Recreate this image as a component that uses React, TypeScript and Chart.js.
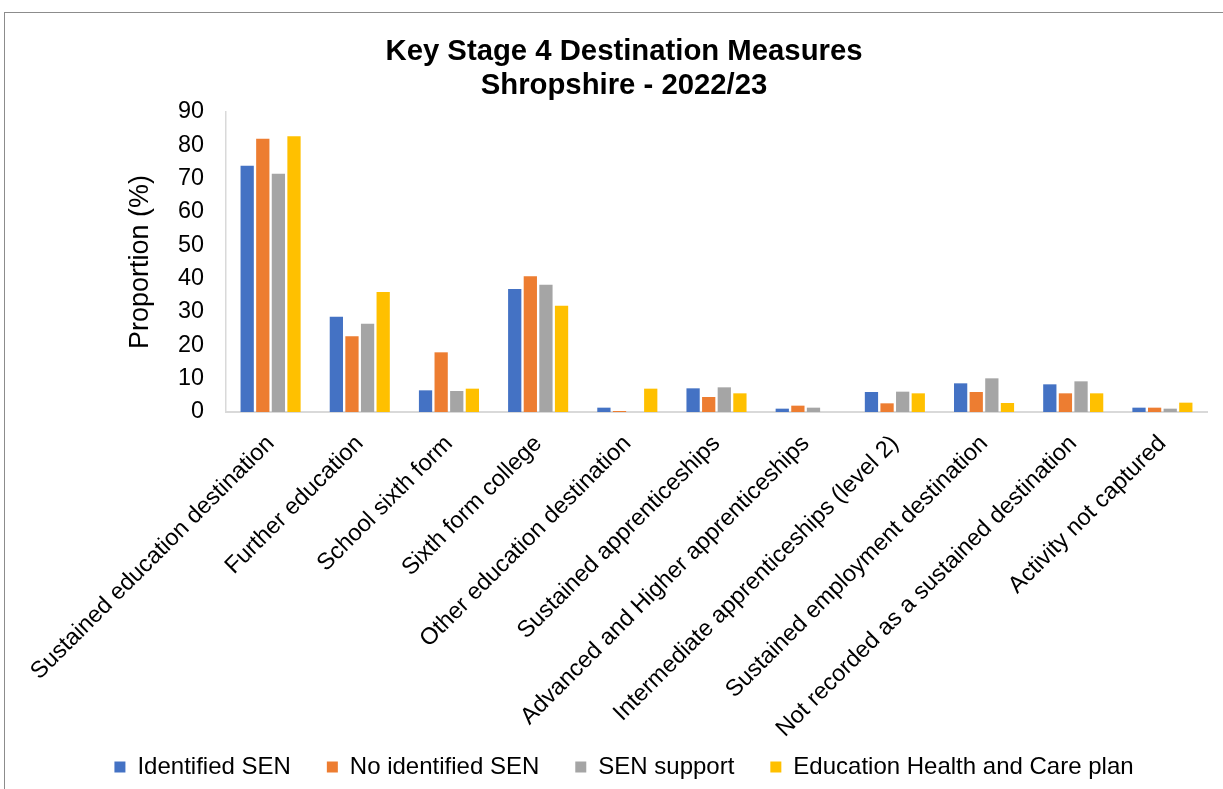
import React, { useEffect, useRef } from "react";
import { Chart, registerables } from "chart.js";

Chart.register(...registerables);

const categories = [
  "Sustained education destination",
  "Further education",
  "School sixth form",
  "Sixth form college",
  "Other education destination",
  "Sustained apprenticeships",
  "Advanced and Higher apprenticeships",
  "Intermediate apprenticeships (level 2)",
  "Sustained employment destination",
  "Not recorded as a sustained destination",
  "Activity not captured",
];

const seriesNames = [
  "Identified SEN",
  "No identified SEN",
  "SEN support",
  "Education Health and Care plan",
];

const identifiedSEN = [73.9, 28.6, 6.5, 36.9, 1.3, 7.1, 1.0, 6.0, 8.6, 8.3, 1.3];
const noIdentifiedSEN = [82.0, 22.7, 17.9, 40.7, 0.3, 4.5, 1.9, 2.6, 6.0, 5.6, 1.3];
const senSupport = [71.5, 26.5, 6.3, 38.2, 0, 7.4, 1.3, 6.1, 10.1, 9.2, 1.0];
const ehcPlan = [82.7, 36.0, 7.0, 31.9, 7.0, 5.6, 0, 5.6, 2.7, 5.6, 2.8];

const yTicks = [0, 10, 20, 30, 40, 50, 60, 70, 80, 90];

const colors = ["#4472C4", "#ED7D31", "#A5A5A5", "#FFC000"];
const FONT = '"Liberation Sans", Arial, Helvetica, sans-serif';

export default function App() {
  const canvasRef = useRef<HTMLCanvasElement | null>(null);

  useEffect(() => {
    document.body.style.margin = "0";
    const ctx = canvasRef.current;
    if (!ctx) return;
    const values = [identifiedSEN, noIdentifiedSEN, senSupport, ehcPlan];
    const chart = new Chart(ctx, {
      type: "bar",
      data: {
        labels: categories,
        datasets: seriesNames.map((name, i) => ({
          label: name,
          data: values[i],
          backgroundColor: colors[i],
          borderWidth: 0,
          categoryPercentage: 0.7,
          barPercentage: 0.85,
          yAxisID: "y",
        })),
      },
      options: {
        animation: false,
        responsive: true,
        maintainAspectRatio: false,
        layout: { padding: { left: 0, right: 0, top: 22, bottom: 0 } },
        plugins: {
          tooltip: { enabled: false },
          title: {
            display: true,
            text: ["Key Stage 4 Destination Measures", "Shropshire - 2022/23"],
            color: "#000",
            font: { family: FONT, size: 29.3, weight: "bold", lineHeight: 1.16 },
            padding: { top: 0, bottom: 9 },
          },
          legend: {
            position: "bottom",
            labels: {
              color: "#000",
              font: { family: FONT, size: 24 },
              boxWidth: 11,
              boxHeight: 11,
              padding: 36,
            },
          },
        },
        scales: {
          x: {
            grid: { display: false, drawTicks: false },
            border: { display: true, color: "#D9D9D9", width: 2 },
            ticks: {
              color: "#000",
              font: { family: FONT, size: 23.5 },
              autoSkip: false,
              maxRotation: 45,
              minRotation: 45,
              padding: 18,
            },
            afterFit: (scale: any) => {
              scale.height = 307;
              scale.paddingLeft = 0;
              scale.paddingRight = 0;
              scale._computeLabelArea = () => undefined;
            },
          },
          y: {
            min: 0,
            max: 90,
            afterBuildTicks: (axis: any) => {
              axis.ticks = yTicks.map((v) => ({ value: v }));
            },
            afterFit: (scale: any) => {
              scale.width = 221;
            },
            grid: { display: false, drawTicks: false },
            border: { display: true, color: "#D9D9D9", width: 1.5 },
            ticks: {
              color: "#000",
              font: { family: FONT, size: 23.4 },
              padding: 22,
              autoSkip: false,
            },
            title: {
              display: true,
              text: "Proportion (%)",
              color: "#000",
              font: { family: FONT, size: 27 },
              padding: { top: 119, bottom: 0 },
            },
          },
          yRight: {
            type: "linear",
            position: "right",
            min: 0,
            max: 90,
            grid: { display: false, drawTicks: false },
            border: { display: false },
            ticks: { display: false },
            afterFit: (scale: any) => {
              scale.width = 36;
            },
          },
        },
      },
    });
    return () => chart.destroy();
  }, []);

  return (
    <div style={{ position: "fixed", left: 0, top: 0, width: 1223, height: 789, overflow: "hidden", background: "#fff" }}>
      <div
        style={{
          position: "absolute",
          left: 4,
          top: 12,
          width: 1240,
          height: 790,
          borderLeft: "1px solid #8c8c8c",
          borderTop: "1px solid #8c8c8c",
          boxSizing: "border-box",
        }}
      >
        <div style={{ position: "relative", width: 1238, height: 776 }}>
          <canvas ref={canvasRef} />
        </div>
      </div>
    </div>
  );
}
